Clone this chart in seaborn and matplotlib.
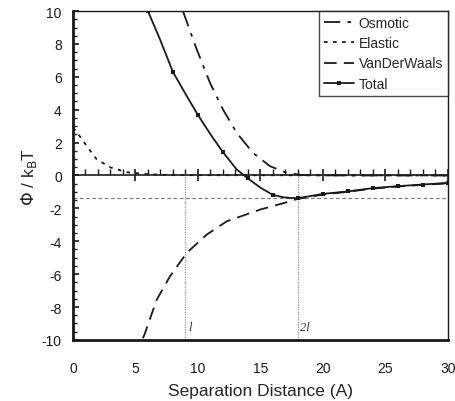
import matplotlib as mpl
import matplotlib.pyplot as plt
import seaborn as sns
from matplotlib.lines import Line2D
from matplotlib.ticker import MultipleLocator

# Values
osmotic_x = [8.8, 9.9, 10.96, 12.0, 13.1, 14.4, 15.76, 17.1, 18.4, 20.0, 22.0, 30.0]
osmotic_y = [10.0, 7.68, 5.65, 4.02, 2.6, 1.38, 0.57, 0.16, 0.02, 0.01, 0.0, 0.0]

elastic_x = [0.0, 0.25, 1.1, 1.9, 3.0, 4.3, 5.9, 8.0, 30.0]
elastic_y = [2.9, 2.7, 1.79, 0.98, 0.49, 0.2, 0.08, 0.02, 0.0]

vdw_x = [5.6, 5.76, 6.7, 7.76, 9.1, 10.7, 12.3, 15.0, 17.1, 18.0, 20.0, 22.0, 24.0, 26.0,
         28.0, 30.0]
vdw_y = [-9.9, -9.6, -7.56, -6.14, -4.71, -3.6, -2.79, -2.07, -1.63, -1.42, -1.16, -0.99,
         -0.8, -0.67, -0.57, -0.48]

# Total: marker points and points read along the smoothed line between them
total_x = [6, 8, 10, 12, 14, 16, 18, 20, 22, 24, 26, 28, 30]
total_y = [10.0, 6.3, 3.68, 1.42, -0.18, -1.18, -1.38, -1.12, -0.97, -0.77, -0.65, -0.55, -0.45]
total_line_x = [6, 6.96, 8, 9.1, 10, 11.1, 12, 13.1, 14, 15.0, 16, 16.8, 17.4, 18, 18.96,
                20, 22, 24, 26, 28, 30]
total_line_y = [10.0, 8.29, 6.3, 4.84, 3.68, 2.4, 1.42, 0.37, -0.18, -0.74, -1.18, -1.32,
                -1.37, -1.38, -1.26, -1.12, -0.97, -0.77, -0.65, -0.55, -0.45]

min_energy = -1.38
ref_x = [9, 18]
ref_labels = ["l", "2l"]

sns.set_theme(style="white")
mpl.rcParams["font.family"] = ["Liberation Sans", "DejaVu Sans"]
mpl.rcParams["font.size"] = 9
mpl.rcParams["axes.unicode_minus"] = False

fig = plt.figure(figsize=(4.56, 4.02), dpi=100)
ax = fig.add_axes([0.160, 0.152, 0.822, 0.818])

# reference lines
ax.axhline(min_energy, color="#808080", lw=0.9, ls=(0, (3, 2)), zorder=1)
ax.vlines(ref_x, -10, 0, color="#909090", lw=0.9, ls=(0, (1, 1)), zorder=1)
for xv, lab in zip(ref_x, ref_labels):
    ax.text(xv + 0.2, -9.6, lab, fontsize=9, style="italic",
            family="Liberation Serif", ha="left", va="bottom", color="#333333")

lw = 1.3
sns.lineplot(x=osmotic_x, y=osmotic_y, ax=ax, color="k", lw=lw,
             linestyle=(0, (9, 4, 2, 4)), sort=False)
sns.lineplot(x=elastic_x, y=elastic_y, ax=ax, color="k", lw=lw,
             linestyle=(0, (2, 3)), sort=False)
sns.lineplot(x=vdw_x, y=vdw_y, ax=ax, color="k", lw=lw,
             linestyle=(0, (7, 4)), sort=False)
sns.lineplot(x=total_line_x, y=total_line_y, ax=ax, color="k", lw=lw, sort=False)
sns.lineplot(x=total_x, y=total_y, ax=ax, color="k", lw=0, marker="s",
             markersize=3.5, markeredgewidth=0, sort=False)

ax.set_xlim(0, 30)
ax.set_ylim(-10, 10)
ax.xaxis.set_major_locator(MultipleLocator(5))
ax.yaxis.set_major_locator(MultipleLocator(2))
ax.yaxis.set_minor_locator(MultipleLocator(0.5))

for side in ["top", "right"]:
    ax.spines[side].set_linewidth(1.0)
    ax.spines[side].set_color("k")
for side in ["left", "bottom"]:
    ax.spines[side].set_linewidth(2.0)
    ax.spines[side].set_color("k")

ax.tick_params(axis="x", which="both", bottom=False, labelsize=10, pad=9, colors="k")
ax.tick_params(axis="y", which="major", left=True, direction="in", length=4, width=1.2,
               labelsize=10, pad=8, colors="k")
ax.tick_params(axis="y", which="minor", left=True, direction="in", length=3, width=1.0)

# horizontal axis crossing at zero
zero_ax = ax.secondary_xaxis(0.5)
zero_ax.spines["bottom"].set_linewidth(1.8)
zero_ax.spines["bottom"].set_color("k")
zero_ax.xaxis.set_major_locator(MultipleLocator(5))
zero_ax.xaxis.set_minor_locator(MultipleLocator(1))
zero_ax.tick_params(which="major", direction="inout", length=9, width=1.2, colors="k",
                    labelbottom=False, labeltop=False)
zero_ax.tick_params(which="minor", direction="out", length=4, width=1.0, colors="k")
zero_ax.set_xticklabels([])

ax.set_xlabel("Separation Distance (A)", fontsize=12.5, labelpad=6)
ax.set_ylabel(r"$\Phi$ / k$_\mathrm{B}$T", fontsize=12.5, labelpad=2)

handles = [
    Line2D([], [], color="k", lw=lw, ls=(0, (9, 4, 2, 4))),
    Line2D([], [], color="k", lw=lw, ls=(0, (2, 3))),
    Line2D([], [], color="k", lw=lw, ls=(0, (7, 4))),
    Line2D([], [], color="k", lw=lw, marker="s", markersize=3.5, markeredgewidth=0),
]
leg = ax.legend(handles, ["Osmotic", "Elastic", "VanDerWaals", "Total"],
                loc="upper right", frameon=True, fancybox=False, edgecolor="k",
                fontsize=10, handlelength=2.2, handletextpad=0.3, borderpad=0.35,
                labelspacing=0.45, borderaxespad=0.0)
leg.get_frame().set_linewidth(1.0)

fig.savefig("out.png", dpi=100)
